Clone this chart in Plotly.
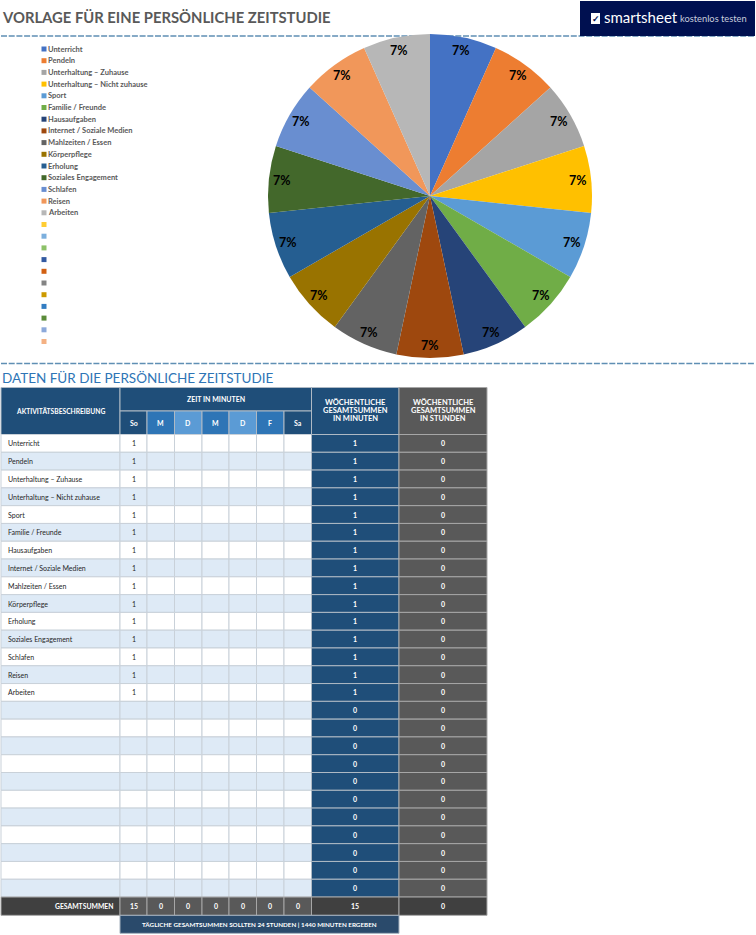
import math
import plotly.graph_objects as go

title = "VORLAGE FÜR EINE PERSÖNLICHE ZEITSTUDIE"
table_title = "DATEN FÜR DIE PERSÖNLICHE ZEITSTUDIE"
activities = ["Unterricht", "Pendeln", "Unterhaltung – Zuhause", "Unterhaltung – Nicht zuhause", "Sport",
              "Familie / Freunde", "Hausaufgaben", "Internet / Soziale Medien", "Mahlzeiten / Essen", "Körperpflege",
              "Erholung", "Soziales Engagement", "Schlafen", "Reisen", "Arbeiten",
              "", "", "", "", "", "", "", "", "", "", ""]
sunday = [1, 1, 1, 1, 1, 1, 1, 1, 1, 1, 1, 1, 1, 1, 1, None, None, None, None, None, None, None, None, None, None, None]
weekly_minutes = [1, 1, 1, 1, 1, 1, 1, 1, 1, 1, 1, 1, 1, 1, 1, 0, 0, 0, 0, 0, 0, 0, 0, 0, 0, 0]
weekly_hours = [0, 0, 0, 0, 0, 0, 0, 0, 0, 0, 0, 0, 0, 0, 0, 0, 0, 0, 0, 0, 0, 0, 0, 0, 0, 0]
days = ["So", "M", "D", "M", "D", "F", "Sa"]
day_totals = [15, 0, 0, 0, 0, 0, 0]
total_minutes = 15
total_hours = 0
minutes_header = ["WÖCHENTLICHE", "GESAMTSUMMEN", "IN MINUTEN"]
hours_header = ["WÖCHENTLICHE", "GESAMTSUMMEN", "IN STUNDEN"]
colors = ["#4472C4", "#ED7D31", "#A5A5A5", "#FFC000", "#5B9BD5", "#70AD47", "#264478", "#9E480E", "#636363",
          "#997300", "#255E91", "#43682B", "#698ED0", "#F1975A", "#B7B7B7", "#FFCD33", "#7CAFDD", "#8CC168",
          "#335AA1", "#D26012", "#848484", "#CC9A00", "#327DC2", "#5A8B39", "#8CA9DA", "#F4B183"]
day_colors = ["#1F4E79", "#2E75B6", "#5B9BD5", "#2E75B6", "#5B9BD5", "#2E75B6", "#1F4E79"]

W, H = 756, 935
FONT = "Lato"
shapes, notes = [], []


def rect(x0, y0, x1, y1, fill, line=None, lw=1):
    shapes.append(dict(type="rect", xref="x", yref="y", x0=x0, y0=y0, x1=x1, y1=y1, fillcolor=fill,
                       line=dict(color=line or fill, width=lw if line else 0), layer="below"))


def text(x, y, s, size=7, color="#FFFFFF", bold=False, anchor="center"):
    notes.append(dict(xref="x", yref="y", x=x, y=y, text=f"<b>{s}</b>" if bold else str(s), showarrow=False,
                      xanchor=anchor, yanchor="middle", align="center",
                      font=dict(family=FONT, size=size, color=color), borderpad=0, borderwidth=0))


# pie
cx, cy, r = 430, 196, 162
pie_labels = [a for a in activities if a]
pie_values = [v for a, v in zip(activities, weekly_minutes) if a]
fig = go.Figure(go.Pie(labels=pie_labels, values=pie_values, sort=False, direction="clockwise", rotation=0,
                       marker=dict(colors=colors[:15], line=dict(width=0)), textinfo="none", hoverinfo="label+percent",
                       showlegend=False,
                       domain=dict(x=[(cx - r) / W, (cx + r) / W], y=[1 - (cy + r) / H, 1 - (cy - r) / H])))
tot = sum(pie_values)
acc = 0
for v in pie_values:
    ang = 2 * math.pi * (acc + v / 2) / tot
    acc += v
    text(cx + 149 * math.sin(ang), cy - 149 * math.cos(ang), f"{round(100 * v / tot)}%", size=12.5, color="#000000", bold=True)

# header, rules, logo
text(2, 17, title, size=14.8, color="#595959", bold=True, anchor="left")
text(2, 378, table_title, size=13.5, color="#2E75B6", anchor="left")
for y in (36, 363.5):
    shapes.append(dict(type="line", xref="x", yref="y", x0=1, x1=755, y0=y, y1=y, layer="below",
                       line=dict(color="#5F8FB4", width=1.6, dash="6px,1.7px")))
shapes.append(dict(type="rect", xref="x", yref="y", x0=580, y0=1, x1=755, y1=36, fillcolor="#001050",
                   line=dict(width=0), layer="above"))
shapes.append(dict(type="rect", xref="x", yref="y", x0=591, y0=13, x1=600, y1=24, fillcolor="#FFFFFF",
                   line=dict(width=0), layer="above"))
text(595.5, 18, "✓", size=9, color="#001050", bold=True)
text(604, 17, "smartsheet", size=15, anchor="left", bold=False)
text(680, 18.5, "kostenlos testen", size=9.3, color="#C8CEDC", anchor="left")

# legend
for i, (a, c) in enumerate(zip(activities, colors)):
    y = 49 + i * 11.7
    rect(41.5, y - 2.5, 46.5, y + 2.5, c)
    if a:
        text(48, y, a, size=7.5, color="#595959", bold=True, anchor="left")

# table
cols = [1, 120, 147, 174.5, 202, 229, 256.5, 284, 311.5, 399, 487]
top, h1, h2, row_top, row_h = 387.5, 411, 434.5, 434.5, 17.79
grid = "#C9D1D9"
rect(cols[0], top, cols[1], h2, "#1F4E79", "#AEB9C4")
rect(cols[1], top, cols[8], h1, "#1F4E79", "#AEB9C4")
rect(cols[8], top, cols[9], h2, "#1F4E79", "#AEB9C4")
rect(cols[9], top, cols[10], h2, "#595959", "#A6A6A6")
text((cols[0] + cols[1]) / 2, 411, "AKTIVITÄTSBESCHREIBUNG", size=6.7, bold=True)
text((cols[1] + cols[8]) / 2, 399, "ZEIT IN MINUTEN", size=7, bold=True)
for k, (a, b) in enumerate(zip(minutes_header, hours_header)):
    text((cols[8] + cols[9]) / 2, 402.5 + 8.2 * k, a, size=7.5, bold=True)
    text((cols[9] + cols[10]) / 2, 402.5 + 8.2 * k, b, size=7.5, bold=True)
for j, (d, c) in enumerate(zip(days, day_colors)):
    rect(cols[j + 1], h1, cols[j + 2], h2, c, "#AEB9C4")
    text((cols[j + 1] + cols[j + 2]) / 2, (h1 + h2) / 2 + 0.5, d, size=7, bold=True)

for i, a in enumerate(activities):
    y0 = row_top + i * row_h
    y1 = y0 + row_h
    ym = (y0 + y1) / 2
    fill = "#FFFFFF" if i % 2 == 0 else "#DEEAF6"
    rect(cols[0], y0, cols[1], y1, fill, grid)
    for j in range(7):
        rect(cols[j + 1], y0, cols[j + 2], y1, fill, grid)
    rect(cols[8], y0, cols[9], y1, "#1F4E79", "#AEB9C4")
    rect(cols[9], y0, cols[10], y1, "#595959", "#A6A6A6")
    if a:
        text(8, ym, a, size=7, color="#262626", anchor="left")
    if sunday[i] is not None:
        text((cols[1] + cols[2]) / 2, ym, sunday[i], size=7, color="#262626")
    text((cols[8] + cols[9]) / 2, ym, weekly_minutes[i], size=7, bold=True)
    text((cols[9] + cols[10]) / 2, ym, weekly_hours[i], size=7, bold=True)

y0 = row_top + 26 * row_h
y1 = y0 + row_h + 0.5
ym = (y0 + y1) / 2
rect(cols[0], y0, cols[1], y1, "#404040", "#A6A6A6")
text(113, ym, "GESAMTSUMMEN", size=6.8, bold=True, anchor="right")
for j, v in enumerate(day_totals):
    rect(cols[j + 1], y0, cols[j + 2], y1, "#595959", "#A6A6A6")
    text((cols[j + 1] + cols[j + 2]) / 2, ym, v, size=7, bold=True)
rect(cols[8], y0, cols[9], y1, "#404040", "#A6A6A6")
rect(cols[9], y0, cols[10], y1, "#404040", "#A6A6A6")
text((cols[8] + cols[9]) / 2, ym, total_minutes, size=7, bold=True)
text((cols[9] + cols[10]) / 2, ym, total_hours, size=7, bold=True)
rect(cols[1], y1, cols[9], y1 + 18, "#2A4A6B", "#A6B2BE")
text((cols[1] + cols[9]) / 2, y1 + 9, "TÄGLICHE GESAMTSUMMEN SOLLTEN 24 STUNDEN | 1440 MINUTEN ERGEBEN", size=6.3, bold=True)

fig.update_layout(width=W, height=H, margin=dict(l=0, r=0, t=0, b=0), paper_bgcolor="#FFFFFF", plot_bgcolor="#FFFFFF",
                  autosize=False, showlegend=False, shapes=shapes, annotations=notes,
                  xaxis=dict(range=[0, W], visible=False, fixedrange=True),
                  yaxis=dict(range=[H, 0], visible=False, fixedrange=True))
fig.write_html("out.html", config=dict(displayModeBar=False),
               post_script="document.body.style.margin='0';document.body.style.overflow='hidden';")
